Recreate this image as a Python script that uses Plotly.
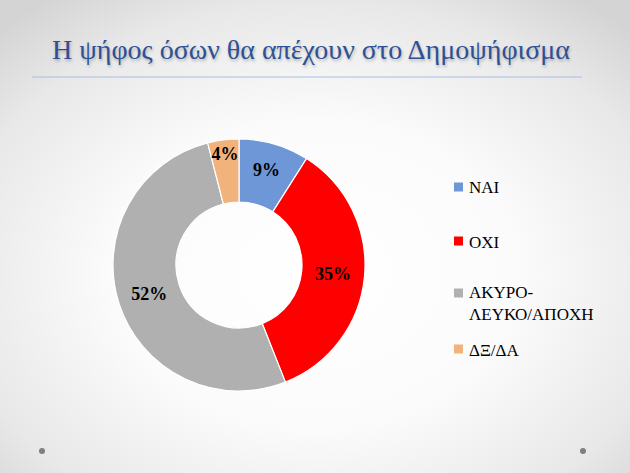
import base64
import plotly.graph_objects as go

# Data
title_text = "Η ψήφος όσων θα απέχουν στο Δημοψήφισμα"
labels = ["ΝΑΙ", "ΟΧΙ", "ΑΚΥΡΟ-ΛΕΥΚΟ/ΑΠΟΧΗ", "ΔΞ/ΔΑ"]
legend_labels = ["ΝΑΙ", "ΟΧΙ", "ΑΚΥΡΟ-<br>ΛΕΥΚΟ/ΑΠΟΧΗ", "ΔΞ/ΔΑ"]
values = [9, 35, 52, 4]
colors = ["#6D97D6", "#FF0000", "#B0B0B0", "#F2B27C"]

W, H = 630, 473
SERIF = "Liberation Serif"

svg = f'''<svg xmlns="http://www.w3.org/2000/svg" width="{W}" height="{H}" viewBox="0 0 {W} {H}" preserveAspectRatio="none">
<defs><radialGradient id="g" cx="50%" cy="58%" r="72%" fx="50%" fy="58%">
<stop offset="0%" stop-color="#FFFFFF"/><stop offset="45%" stop-color="#FBFBFB"/>
<stop offset="80%" stop-color="#E8E8E8"/><stop offset="100%" stop-color="#D4D4D4"/>
</radialGradient></defs>
<rect width="{W}" height="{H}" fill="url(#g)"/></svg>'''
bg_uri = "data:image/svg+xml;base64," + base64.b64encode(svg.encode("utf-8")).decode()

fig = go.Figure()
fig.add_trace(go.Pie(
    labels=labels,
    values=values,
    hole=0.5,
    sort=False,
    direction="clockwise",
    rotation=0,
    marker=dict(colors=colors, line=dict(color="#FFFFFF", width=1.2)),
    texttemplate="%{value}%",
    textposition="inside",
    insidetextorientation="horizontal",
    textfont=dict(family=SERIF, size=18, color="#000000", weight="bold"),
    domain=dict(x=[113 / W, 365 / W], y=[(H - 391) / H, (H - 139) / H]),
    showlegend=False,
    hoverinfo="label+percent",
))

annotations = [
    dict(text=title_text, x=50 / W, y=1 - 50 / H, xref="paper", yref="paper",
         xanchor="left", yanchor="middle", showarrow=False,
         font=dict(family=SERIF, size=28, color="#2E5096",
                   shadow="1px 2px 3px rgba(0,0,0,0.25)")),
]
shapes = [
    dict(type="line", xref="paper", yref="paper", x0=32 / W, x1=582 / W,
         y0=1 - 77 / H, y1=1 - 77 / H, line=dict(color="#A8BFE3", width=1.2)),
]

legend_text_y = [187, 242, 303, 350]
legend_box_y = [187, 241, 293, 349]
for lab, col, ty, by in zip(legend_labels, colors, legend_text_y, legend_box_y):
    annotations.append(dict(text=lab, x=467 / W, y=1 - ty / H, xref="paper", yref="paper",
                            xanchor="left", yanchor="middle", align="left", showarrow=False,
                            font=dict(family=SERIF, size=17, color="#000000")))
    shapes.append(dict(type="rect", xref="paper", yref="paper",
                       x0=454 / W, x1=463 / W, y0=1 - (by + 4.5) / H, y1=1 - (by - 4.5) / H,
                       fillcolor=col, line=dict(width=0)))

for cx in [42, 583]:
    shapes.append(dict(type="circle", xref="paper", yref="paper",
                       x0=(cx - 3) / W, x1=(cx + 3) / W, y0=1 - (451 + 3) / H, y1=1 - (451 - 3) / H,
                       fillcolor="#7F7F7F", line=dict(width=0)))

fig.update_layout(
    width=W, height=H,
    margin=dict(l=0, r=0, t=0, b=0),
    paper_bgcolor="#EFEFEF",
    plot_bgcolor="rgba(0,0,0,0)",
    font=dict(family=SERIF),
    images=[dict(source=bg_uri, xref="paper", yref="paper", x=0, y=1, sizex=1, sizey=1,
                 sizing="stretch", xanchor="left", yanchor="top", layer="below")],
    annotations=annotations,
    shapes=shapes,
    uniformtext=dict(minsize=18, mode="show"),
)

fig.write_html("out.html")
